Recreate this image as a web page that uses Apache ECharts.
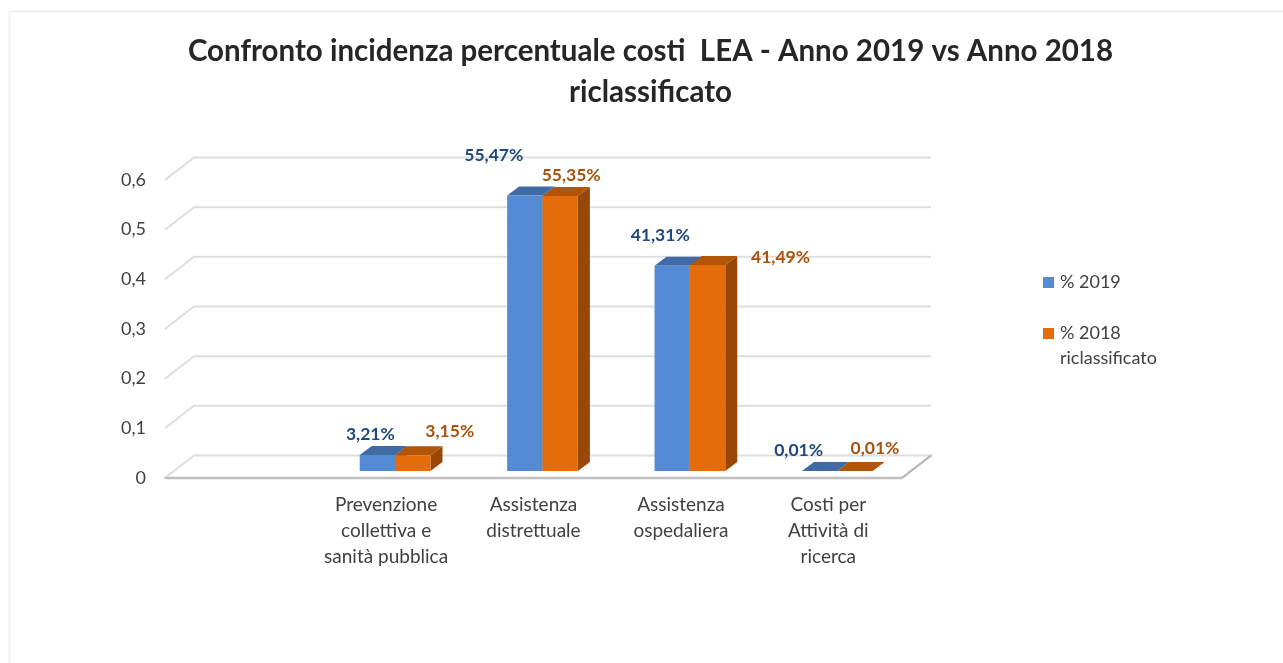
<!DOCTYPE html>
<html><head><meta charset="utf-8">
<style>html,body{margin:0;padding:0;background:#fff}#c{width:1283px;height:663px}</style>
<script src="https://cdn.jsdelivr.net/npm/echarts@6/dist/echarts.min.js"></script>
</head><body><div id="c"></div>
<script>
const categories = ['', 'Prevenzione\ncollettiva e\nsanità pubblica', 'Assistenza\ndistrettuale', 'Assistenza\nospedaliera', 'Costi per\nAttività di\nricerca'];
const series2019 = [null, 0.0321, 0.5547, 0.4131, 0.0001];
const series2018 = [null, 0.0315, 0.5535, 0.4149, 0.0001];
const labels2019 = ['', '3,21%', '55,47%', '41,31%', '0,01%'];
const labels2018 = ['', '3,15%', '55,35%', '41,49%', '0,01%'];
const gridTicks = [0, 0.1, 0.2, 0.3, 0.4, 0.5, 0.6];
const title = 'Confronto incidenza percentuale costi  LEA - Anno 2019 vs Anno 2018\nriclassificato';

const FONT = 'Lato';
// 3D projection: depth of the chart floor and of the bars, in pixels
const WALL_DX = 29, WALL_DY = -22.5, BAR_OFF_DX = 9, BAR_OFF_DY = -7, BAR_DX = 12, BAR_DY = -9;
// label offsets from each bar's top centre
const off2019 = [null, [-7, -21], [-31, -40], [-12, -30], [-21, -21]];
const off2018 = [null, [37, -24], [11, -21], [73, -8], [20, -23]];

function renderWalls(params, api) {
  const v = api.value(0);
  const a = api.coord([0, v]);
  const size = api.size([1, 0])[0];
  const l = a[0] - size / 2, r = l + size * 5, y = a[1];
  const children = [];
  if (v === 0) {
    children.push({ type: 'polygon', shape: { points: [[l, y], [l + WALL_DX, y + WALL_DY], [r + WALL_DX, y + WALL_DY], [r, y]] },
      style: { fill: '#fff', stroke: '#dedede', lineWidth: 2 } });
    children.push({ type: 'line', shape: { x1: r, y1: y, x2: r + WALL_DX, y2: y + WALL_DY }, style: { stroke: '#b5b5b5', lineWidth: 2 } });
    children.push({ type: 'line', shape: { x1: l, y1: y, x2: r, y2: y }, style: { stroke: '#bfbfbf', lineWidth: 2.5 } });
  } else {
    children.push({ type: 'polyline', shape: { points: [[l, y], [l + WALL_DX, y + WALL_DY], [r + WALL_DX, y + WALL_DY]] },
      style: { fill: null, stroke: '#dedede', lineWidth: 2 } });
  }
  return { type: 'group', children };
}

function makeBar(sideIndex, texts, offs, topColor, sideColor, labelColor) {
  return function (params, api) {
    const cat = api.value(0), val = api.value(1);
    if (val == null || isNaN(val)) return null;
    const base = api.coord([cat, 0]), top = api.coord([cat, val]);
    const w = api.size([1, 0])[0] * 0.24;
    const x0 = base[0] + BAR_OFF_DX + (sideIndex - 1) * w, x1 = x0 + w;
    const yb = base[1] + BAR_OFF_DY, yt = top[1] + BAR_OFF_DY;
    const children = [];
    children.push({ type: 'polygon', shape: { points: [[x1, yb], [x1 + BAR_DX, yb + BAR_DY], [x1 + BAR_DX, yt + BAR_DY], [x1, yt]] }, style: { fill: sideColor } });
    children.push({ type: 'polygon', shape: { points: [[x0, yt], [x0 + BAR_DX, yt + BAR_DY], [x1 + BAR_DX, yt + BAR_DY], [x1, yt]] }, style: { fill: topColor } });
    children.push({ type: 'rect', shape: { x: x0, y: yt, width: w, height: yb - yt }, style: { fill: api.visual('color') } });
    const o = offs[cat];
    children.push({ type: 'text', z2: 10, style: { text: texts[cat], x: (x0 + x1) / 2 + o[0], y: yt + o[1], align: 'center', verticalAlign: 'middle',
      fill: labelColor, font: 'bold 17.5px ' + FONT } });
    return { type: 'group', children };
  };
}

const chart = echarts.init(document.getElementById('c'));
chart.setOption({
  animation: false,
  backgroundColor: '#fff',
  graphic: [
    { type: 'line', silent: true, shape: { x1: 9, y1: 11.5, x2: 1283, y2: 11.5 }, style: { stroke: '#ebebeb', lineWidth: 1.5 } },
    { type: 'line', silent: true, shape: { x1: 9.5, y1: 11, x2: 9.5, y2: 663 }, style: { stroke: '#f0f0f0', lineWidth: 1.5 } }
  ],
  title: { text: title, left: 645.5, top: 26, textAlign: 'center',
    textStyle: { fontFamily: FONT, fontWeight: 'bold', fontSize: 29.5, lineHeight: 41, color: '#262626' } },
  legend: { left: 1038, top: 265, orient: 'vertical', itemWidth: 11, itemHeight: 11, itemGap: 1, icon: 'rect',
    textStyle: { fontFamily: FONT, fontSize: 18, lineHeight: 25, color: '#404040', padding: [0, 0, 0, 1] },
    formatter: name => name.includes('\n') ? '\n' + name : name,
    data: ['% 2019', '% 2018\nriclassificato'] },
  grid: { left: 165, top: 180, width: 737, height: 298, containLabel: false },
  xAxis: { type: 'category', data: categories,
    axisLine: { show: false }, axisTick: { show: false }, splitLine: { show: false },
    axisLabel: { interval: 0, margin: 14, fontFamily: FONT, fontSize: 19, lineHeight: 26, color: '#404040' } },
  yAxis: { type: 'value', min: 0, max: 0.6, interval: 0.1,
    axisLine: { show: false }, axisTick: { show: false }, splitLine: { show: false },
    axisLabel: { margin: 19, fontFamily: FONT, fontSize: 18, color: '#404040',
      formatter: v => String(+v.toFixed(1)).replace('.', ',') } },
  series: [
    { type: 'custom', name: 'walls', silent: true, z: 1, clip: false, data: gridTicks.map(v => [v]), encode: { y: 0 }, renderItem: renderWalls },
    { type: 'custom', name: '% 2019', z: 2, clip: false, itemStyle: { color: '#558ad4' }, encode: { x: 0, y: 1 },
      data: series2019.map((v, i) => [i, v]), renderItem: makeBar(0, labels2019, off2019, '#3f6ca6', '#3f6ca6', '#1f497d') },
    { type: 'custom', name: '% 2018\nriclassificato', z: 3, clip: false, itemStyle: { color: '#e56c0a' }, encode: { x: 0, y: 1 },
      data: series2018.map((v, i) => [i, v]), renderItem: makeBar(1, labels2018, off2018, '#b35406', '#974706', '#a5520e') }
  ]
});
</script></body></html>
